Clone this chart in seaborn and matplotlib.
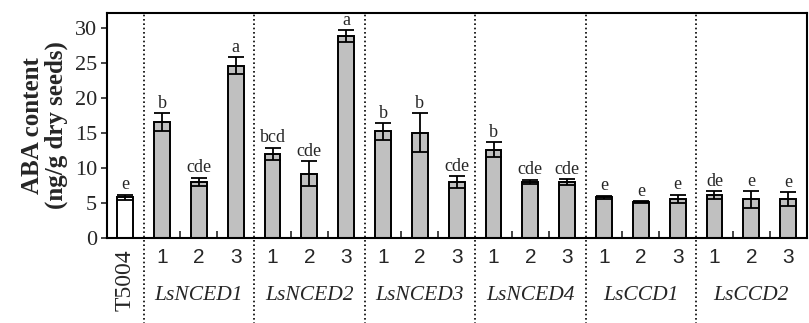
import numpy as np
import pandas as pd
import seaborn as sns
import matplotlib.pyplot as plt
import matplotlib.transforms as mtransforms

genes = ["LsNCED1", "LsNCED2", "LsNCED3", "LsNCED4", "LsCCD1", "LsCCD2"]
lines = ["1", "2", "3"]
control = "T5004"

control_value = 5.8
control_err = 0.4
control_letter = "e"

# ABA content per line, one row per gene
values = [
    [16.5, 8.0, 24.6],
    [12.0, 9.2, 28.8],
    [15.2, 15.0, 8.0],
    [12.6, 8.0, 8.0],
    [5.8, 5.1, 5.6],
    [6.1, 5.5, 5.5],
]
errors = [
    [1.3, 0.6, 1.2],
    [0.9, 1.8, 0.8],
    [1.2, 2.8, 0.8],
    [1.1, 0.3, 0.4],
    [0.25, 0.15, 0.6],
    [0.6, 1.2, 1.0],
]
letters = [
    ["b", "cde", "a"],
    ["bcd", "cde", "a"],
    ["b", "b", "cde"],
    ["b", "cde", "cde"],
    ["e", "e", "e"],
    ["de", "e", "e"],
]

rows = [{"sample": control, "aba": control_value, "err": control_err,
         "letter": control_letter, "kind": "control", "tick": ""}]
for g, vals, errs, lets in zip(genes, values, errors, letters):
    for ln, v, e, l in zip(lines, vals, errs, lets):
        rows.append({"sample": f"{g}-{ln}", "aba": v, "err": e,
                     "letter": l, "kind": "transgenic", "tick": ln})
df = pd.DataFrame(rows)

sns.set_style("ticks")
plt.rcParams["font.family"] = ["Liberation Serif", "DejaVu Serif"]

fig = plt.figure(figsize=(8.09, 3.23), dpi=100)
ax = fig.add_axes([0.132, 0.263, 0.865, 0.697])

sns.barplot(data=df, x="sample", y="aba", hue="kind",
            palette={"control": "white", "transgenic": "#c0c0c0"},
            order=list(df["sample"]), dodge=False, width=0.43,
            edgecolor="black", linewidth=1.4, errorbar=None,
            legend=False, ax=ax)

pos = np.arange(len(df))
ax.errorbar(pos, df["aba"], yerr=df["err"], fmt="none", ecolor="black",
            elinewidth=1.3, capsize=5.5, capthick=1.3, zorder=5)

for x, v, e, l in zip(pos, df["aba"], df["err"], df["letter"]):
    ax.text(x, v + e + 0.2, l, ha="center", va="bottom", fontsize=13)

ax.set_xlim(-0.5, len(df) - 0.5)
ax.set_ylim(0, 32.1)
ax.set_yticks([0, 5, 10, 15, 20, 25, 30])
ax.tick_params(axis="y", labelsize=16, length=4, width=1.2, direction="out",
               pad=3)

ax.set_xticks(pos)
ax.set_xticklabels(df["tick"], fontsize=15, family="Liberation Sans")
ax.tick_params(axis="x", which="major", length=0, pad=7)
minor = [b + k + 0.5 for b in range(1, len(df), 3) for k in (0, 1)]
ax.set_xticks(minor, minor=True)
ax.tick_params(axis="x", which="minor", direction="in", length=5, width=1.2)

for s in ax.spines.values():
    s.set_color("black")
    s.set_linewidth(1.5)

ax.set_xlabel("")
ax.set_ylabel("ABA content\n(ng/g dry seeds)", fontsize=18, fontweight="bold",
              linespacing=1.0, labelpad=5)

trans = mtransforms.blended_transform_factory(ax.transData, ax.transAxes)
for b in range(0, len(df) - 1, 3):
    ax.plot([b + 0.5, b + 0.5], [-0.38, 1], transform=trans, color="black",
            linestyle=(0, (1, 1.6)), linewidth=1.2, clip_on=False)

ax.text(0, -0.05, control, transform=trans, rotation=90, ha="center",
        va="top", fontsize=17)
for i, g in enumerate(genes):
    ax.text(2 + 3 * i, -0.215, g, transform=trans, ha="center", va="top",
            fontsize=15.5, style="italic")

fig.savefig("out.png", dpi=100)
